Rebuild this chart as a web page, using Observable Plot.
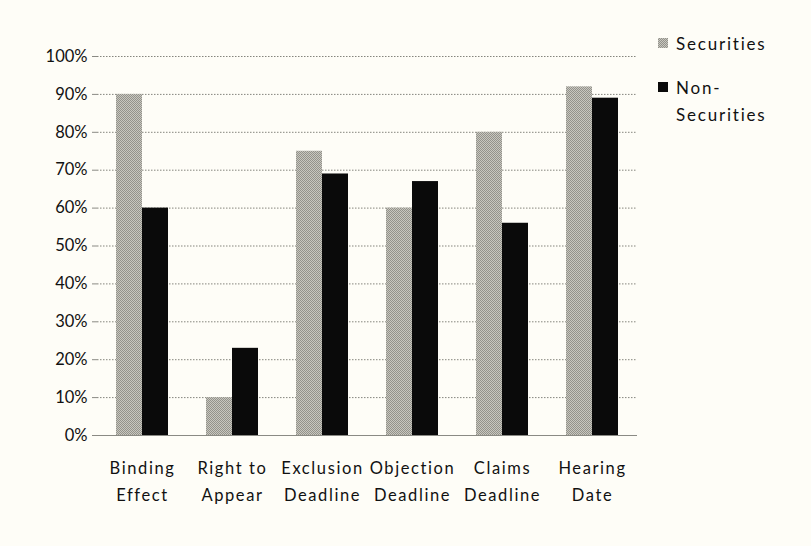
<!DOCTYPE html>
<html>
<head>
<meta charset="utf-8">
<script src="https://cdn.jsdelivr.net/npm/d3@7"></script>
<script src="https://cdn.jsdelivr.net/npm/@observablehq/plot@0.6"></script>
<style>
  html, body { margin: 0; padding: 0; background: #fefdf7; }
  #wrap { position: relative; width: 811px; height: 546px; font-family: Lato, "Open Sans", sans-serif; }
  #legend { position: absolute; left: 658px; top: 30px; font-size: 17px; color: #111; line-height: 27px; letter-spacing: 1.8px; }
  .item { display: flex; align-items: flex-start; margin-bottom: 17px; }
  .sw { width: 10px; height: 10px; margin-right: 8px; margin-top: 8px; flex: none; }
  [aria-label="x-axis tick label"] text { letter-spacing: 1.6px; }
</style>
</head>
<body>
<svg width="0" height="0" style="position:absolute">
  <defs>
    <pattern id="secpat" width="2" height="2" patternUnits="userSpaceOnUse">
      <rect width="2" height="2" fill="#c8c7bf"></rect>
      <rect width="1" height="1" fill="#93928b"></rect>
      <rect x="1" y="1" width="1" height="1" fill="#93928b"></rect>
    </pattern>
  </defs>
</svg>
<div id="wrap">
  <div id="chart"></div>
  <div id="legend">
    <div class="item"><div class="sw" style="background:repeating-conic-gradient(#93928b 0 25%, #c8c7bf 0 50%) 0 0/2px 2px;"></div><div>Securities</div></div>
    <div class="item"><div class="sw" style="background:#0a0a0a"></div><div>Non-<br>Securities</div></div>
  </div>
</div>
<script>
const categories = ["Binding Effect", "Right to Appear", "Exclusion Deadline", "Objection Deadline", "Claims Deadline", "Hearing Date"];
const tickLabels = ["Binding\nEffect", "Right to\nAppear", "Exclusion\nDeadline", "Objection\nDeadline", "Claims\nDeadline", "Hearing\nDate"];
const securities = [0.90, 0.10, 0.75, 0.60, 0.80, 0.92];
const nonSecurities = [0.60, 0.23, 0.69, 0.67, 0.56, 0.89];
const yTicks = [0, 0.1, 0.2, 0.3, 0.4, 0.5, 0.6, 0.7, 0.8, 0.9, 1.0];

const secData = categories.map((c, i) => ({category: c, value: securities[i]}));
const nonData = categories.map((c, i) => ({category: c, value: nonSecurities[i]}));
const labelOf = new Map(categories.map((c, i) => [c, tickLabels[i]]));

const chart = Plot.plot({
  width: 811,
  height: 546,
  marginLeft: 97,
  marginRight: 174,
  marginTop: 56,
  marginBottom: 111,
  style: {background: "transparent", fontFamily: "Lato, 'Open Sans', sans-serif", fontSize: "16px", color: "#111"},
  x: {domain: categories, paddingInner: 0.422, paddingOuter: 0.211, axis: null},
  y: {domain: [0, 1], axis: null},
  marks: [
    Plot.gridY(yTicks, {stroke: "#85857d", strokeOpacity: 1, strokeDasharray: "1.5,1.5", strokeWidth: 1}),
    Plot.barY(secData, {x: "category", y: "value", fill: "url(#secpat)", insetRight: 26}),
    Plot.barY(nonData, {x: "category", y: "value", fill: "#0a0a0a", insetLeft: 26}),
    Plot.ruleY([0], {stroke: "#8a8a84"}),
    Plot.axisY(yTicks, {tickFormat: d3.format(".0%"), tickSize: 5, tickPadding: 5, stroke: "#8a8a84", fill: "#111", fontSize: 16.5, line: true, label: null}),
    Plot.axisX({tickFormat: d => labelOf.get(d), tickSize: 0, tickPadding: 19, fill: "#111", fontSize: 16.5, lineHeight: 1.65, label: null})
  ]
});
document.getElementById("chart").appendChild(chart);
</script>
</body>
</html>
